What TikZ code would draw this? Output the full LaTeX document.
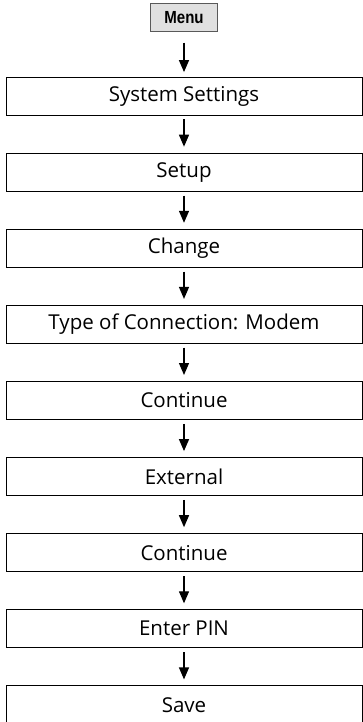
\documentclass[tikz,border=0pt]{standalone}
\usepackage{fontspec}
\setmainfont{Open Sans}
\newfontfamily\menufont[FakeStretch=0.86]{Liberation Sans}
\usetikzlibrary{arrows.meta,positioning}

\begin{document}
\begin{tikzpicture}[x=1pt, y=1pt, node distance=37.3pt, >={Triangle[length=12pt, width=10pt]},
    box/.style={draw, line width=0.8pt, minimum width=356pt, minimum height=38pt, inner sep=0pt, font=\fontsize{20.5}{24}\selectfont},
    menubtn/.style={draw=black!65, fill=black!12, line width=0.7pt, minimum width=67pt, minimum height=28pt, inner sep=0pt, font=\menufont\bfseries\fontsize{17.5}{20}\selectfont},
    step arrow/.style={->, line width=1.3pt, shorten <=4pt, shorten >=6pt}]
\useasboundingbox (0,0) rectangle (363,-722);
\node[box] (settings) at (184,-96) {System Settings};
\node[menubtn, above=45pt of settings] (menu) {Menu};
\node[box, below=of settings] (setup) {Setup};
\node[box, below=of setup] (change) {Change};
\node[box, below=of change] (conntype) {Type of Connection: Modem};
\node[box, below=of conntype] (cont1) {Continue};
\node[box, below=of cont1] (external) {External};
\node[box, below=of external] (cont2) {Continue};
\node[box, below=of cont2] (pin) {Enter PIN};
\node[box, below=of pin] (save) {Save};
\draw[step arrow, shorten <=11pt, shorten >=4.5pt] (menu) -- (settings);
\draw[step arrow] (settings) -- (setup);
\draw[step arrow] (setup) -- (change);
\draw[step arrow] (change) -- (conntype);
\draw[step arrow] (conntype) -- (cont1);
\draw[step arrow] (cont1) -- (external);
\draw[step arrow] (external) -- (cont2);
\draw[step arrow] (cont2) -- (pin);
\draw[step arrow] (pin) -- (save);
\end{tikzpicture}
\end{document}
